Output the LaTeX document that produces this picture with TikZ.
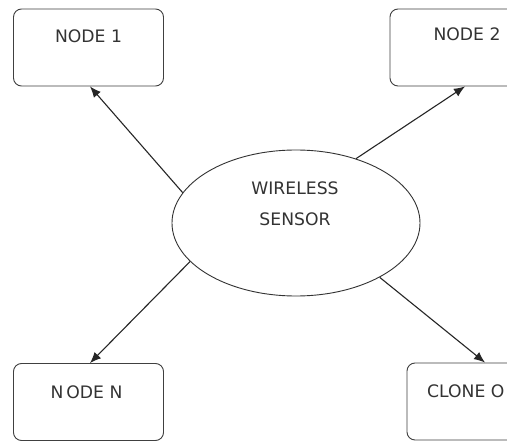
\documentclass[tikz,border=0pt]{standalone}
\usepackage{fontspec}
\setmainfont{DejaVu Sans}
\usetikzlibrary{shapes.geometric,arrows.meta}
\tikzset{
  boxshape/.style={draw=black!75, line width=0.9pt, rounded corners=8pt, minimum width=150pt, minimum height=77pt, inner sep=0pt},
  lbl/.style={font=\fontsize{17.2}{31}\selectfont, text=black!80, inner sep=0pt},
  ovalshape/.style={ellipse, draw=black!80, line width=0.9pt, minimum width=248pt, minimum height=146pt, inner sep=0pt},
  conn/.style={draw=black!85, line width=1.1pt, -{Latex[length=11pt,width=9pt]}}
}
\begin{document}
\begin{tikzpicture}[x=1pt,y=-1pt]
\useasboundingbox (0,0) rectangle (507,441);
\clip (0,0) rectangle (507,441);
\fill[white] (0,0) rectangle (507,441);
\node[boxshape] (n1) at (88.5,47.5) {};
\node[boxshape] (n2) at (465,47.5) {};
\node[boxshape] (nn) at (88.5,402) {};
\node[boxshape] (cl) at (482,401.5) {};
\node[lbl] (t1) at (88.5,36) {NODE 1};
\node[lbl] (t2) at (467,34) {NODE 2};
\node[lbl] (tn) at (86.5,392) {N\kern3pt ODE N};
\node[lbl, anchor=west] (tc) at (427,391) {CLONE O};
\node[ovalshape] (ws) at (296,223) {};
\node[lbl, align=center] (tw) at (295,203.5) {WIRELESS\\SENSOR};
\draw[conn] (ws.165) -- ([xshift=1.5pt]n1.south);
\draw[conn] (ws.47) -- (n2.south);
\draw[conn] (ws.200) -- ([xshift=1.5pt]nn.north);
\draw[conn] (ws.327) -- ([xshift=3pt]cl.north);
\end{tikzpicture}
\end{document}
